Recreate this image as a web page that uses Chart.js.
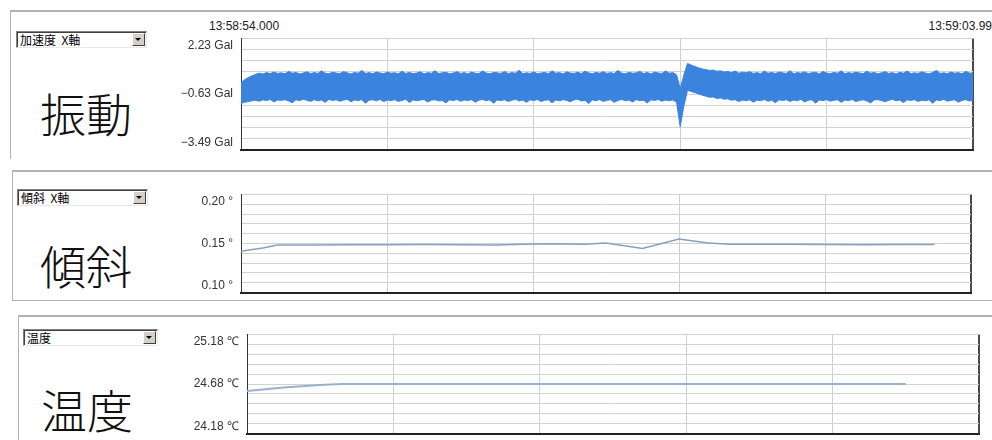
<!DOCTYPE html>
<html>
<head>
<meta charset="utf-8">
<script src="https://cdn.jsdelivr.net/npm/chart.js@4.4.1/dist/chart.umd.min.js"></script>
<style>
html, body { margin:0; padding:0; width:992px; height:440px; overflow:hidden; background:#fff; font-family:"Noto Sans CJK JP", sans-serif; }
.panel { position:absolute; border-top:2px solid #b2b2b2; border-left:1px solid #b2b2b2; }
.combo { position:absolute; background:#fff; border:1px solid; border-color:#808080 #e8e8e8 #e8e8e8 #808080; box-shadow:inset 1px 1px 0 #404040; font-size:12px; line-height:15px; padding-left:3px; color:#000; box-sizing:border-box; height:17px; }
.combo .btn { position:absolute; right:1px; top:1px; width:13px; height:13px; background:#d4d0c8; border:1px solid; border-color:#fff #404040 #404040 #fff; box-sizing:border-box; }
.combo .btn:after { content:""; position:absolute; left:2px; top:4px; border-left:3px solid transparent; border-right:3px solid transparent; border-top:3px solid #000; }
.big { position:absolute; font-size:46px; line-height:1; color:#111; font-weight:300; }
.stamp { position:absolute; font-family:"Liberation Sans", sans-serif; font-size:12px; color:#222; }
.box { position:absolute; }
</style>
</head>
<body>

<div class="panel" style="left:10px;top:10px;width:990px;height:147px;"></div>
<div class="panel" style="left:12px;top:170px;width:990px;height:128px;border-bottom:1px solid #b2b2b2;"></div>
<div class="panel" style="left:18px;top:315px;width:990px;height:140px;"></div>

<div class="combo" style="left:16px;top:31px;width:131px;">加速度&nbsp;&nbsp;X軸<div class="btn"></div></div>
<div class="combo" style="left:17px;top:189px;width:131px;">傾斜&nbsp;&nbsp;X軸<div class="btn"></div></div>
<div class="combo" style="left:23px;top:329px;width:135px;">温度<div class="btn"></div></div>

<div class="big" style="left:40px;top:89px;">振動</div>
<div class="big" style="left:40px;top:241px;">傾斜</div>
<div class="big" style="left:41px;top:385px;">温度</div>

<div class="stamp" style="left:209px;top:19px;">13:58:54.000</div>
<div class="stamp" style="right:0px;top:19px;">13:59:03.99</div>

<div class="box" style="left:170px;top:16px;width:822px;height:156px;"><canvas id="vib"></canvas></div>
<div class="box" style="left:170px;top:172px;width:822px;height:143px;"><canvas id="tilt"></canvas></div>
<div class="box" style="left:170px;top:312px;width:822px;height:144px;"><canvas id="temp"></canvas></div>

<script>
// vibration (acceleration X): max / min per 0.05 s slot, from 13:58:54.000
const vibStep = 0.05;
const vibMax = [
  -0.05, 0.10, 0.22, 0.30, 0.38, 0.44, 0.40, 0.47, 0.42, 0.50, 0.43, 0.46, 0.41, 0.53, 0.44, 0.48, 0.40, 0.45, 0.51, 0.42,
  0.47, 0.43, 0.56, 0.44, 0.41, 0.49, 0.45, 0.42, 0.52, 0.46, 0.40, 0.48, 0.44, 0.58, 0.43, 0.47, 0.41, 0.50, 0.45, 0.42,
  0.49, 0.44, 0.46, 0.41, 0.54, 0.43, 0.48, 0.42, 0.45, 0.51, 0.40, 0.47, 0.44, 0.57, 0.42, 0.46, 0.49, 0.41, 0.45, 0.52,
  0.43, 0.47, 0.40, 0.50, 0.44, 0.42, 0.55, 0.45, 0.41, 0.48, 0.46, 0.43, 0.53, 0.42, 0.47, 0.44, 0.59, 0.41, 0.46, 0.43,
  0.50, 0.42, 0.45, 0.48, 0.41, 0.56, 0.44, 0.47, 0.40, 0.51, 0.45, 0.43, 0.49, 0.42, 0.54, 0.46, 0.41, 0.48, 0.44, 0.52,
  0.43, 0.47, 0.42, 0.58, 0.45, 0.41, 0.49, 0.44, 0.46, 0.53, 0.42, 0.48, 0.40, 0.50, 0.45, 0.43, 0.55, 0.44, 0.47, 0.36,
  -0.35, 0.35, 0.94, 0.86, 0.78, 0.72, 0.66, 0.63, 0.58, 0.60, 0.54, 0.56, 0.50, 0.53, 0.47, 0.55, 0.44, 0.49, 0.46, 0.52,
  0.43, 0.47, 0.41, 0.55, 0.44, 0.48, 0.42, 0.50, 0.46, 0.43, 0.57, 0.41, 0.47, 0.44, 0.51, 0.42, 0.46, 0.49, 0.40, 0.53,
  0.45, 0.42, 0.48, 0.44, 0.56, 0.41, 0.47, 0.43, 0.50, 0.45, 0.42, 0.54, 0.44, 0.48, 0.41, 0.46, 0.52, 0.43, 0.47, 0.40,
  0.49, 0.44, 0.55, 0.42, 0.46, 0.43, 0.51, 0.45, 0.41, 0.48, 0.58, 0.43, 0.46, 0.42, 0.50, 0.44, 0.47, 0.41, 0.53, 0.45,
  0.44];
const vibMin = [
  -1.10, -1.06, -1.02, -0.98, -0.95, -1.00, -0.93, -0.97, -0.91, -1.04, -0.94, -0.96, -0.92, -0.99, -1.08, -0.93, -0.97, -0.90, -0.95, -1.01,
  -0.92, -0.98, -0.94, -1.06, -0.91, -0.96, -0.93, -1.00, -0.95, -0.90, -1.03, -0.94, -0.97, -0.92, -1.10, -0.95, -0.93, -0.98, -0.91, -1.02,
  -0.94, -0.97, -0.92, -1.01, -0.96, -0.90, -1.07, -0.93, -0.98, -0.94, -0.91, -1.04, -0.95, -0.92, -0.99, -0.96, -1.09, -0.93, -0.97, -0.91,
  -1.00, -0.94, -0.96, -0.92, -1.05, -0.95, -0.91, -0.98, -0.93, -1.11, -0.94, -0.97, -0.92, -1.01, -0.95, -0.90, -0.99, -0.94, -1.06, -0.93,
  -0.97, -0.91, -1.02, -0.95, -0.93, -1.08, -0.94, -0.98, -0.92, -0.96, -1.03, -0.93, -0.90, -0.99, -0.95, -1.12, -0.94, -0.97, -0.92, -1.01,
  -0.95, -0.93, -1.06, -0.96, -0.91, -0.98, -0.94, -1.04, -0.92, -0.97, -0.95, -1.09, -0.93, -0.96, -0.91, -1.00, -0.94, -0.98, -0.93, -1.05,
  -2.32, -1.25, -0.44, -0.50, -0.56, -0.62, -0.69, -0.74, -0.80, -0.78, -0.86, -0.83, -0.90, -0.88, -0.95, -0.92, -1.02, -0.94, -0.97, -0.93,
  -1.05, -0.94, -0.97, -0.91, -1.00, -0.95, -1.08, -0.93, -0.96, -0.92, -1.01, -0.94, -0.98, -0.90, -1.04, -0.95, -0.93, -1.10, -0.94, -0.97,
  -0.92, -1.00, -0.95, -0.93, -1.06, -0.94, -0.97, -0.91, -1.02, -0.96, -0.93, -0.99, -1.09, -0.94, -0.92, -0.97, -1.03, -0.95, -0.91, -0.98,
  -0.94, -1.07, -0.93, -0.96, -0.92, -1.01, -0.95, -0.98, -0.93, -1.11, -0.94, -0.97, -0.91, -1.00, -0.95, -0.93, -1.05, -0.96, -0.92, -0.99,
  -0.96];
const vibRange = [-3.49, 2.23];
const vibTicks = ['2.23 Gal', '−0.63 Gal', '−3.49 Gal'];

// tilt X
const tiltTime = [0, 0.3, 0.5, 1.0, 1.5, 2.0, 2.5, 3.0, 3.5, 4.0, 4.3, 4.7, 5.0, 5.5, 6.0, 6.4, 6.7, 7.5, 8.0, 8.5, 9.0, 9.5];
const tiltX = [0.142, 0.1455, 0.1485, 0.1485, 0.1487, 0.1488, 0.1490, 0.1488, 0.1485, 0.1495, 0.1498, 0.1493, 0.1505, 0.1450, 0.1545, 0.1505, 0.1492, 0.1492, 0.1490, 0.1487, 0.1490, 0.1491];
const tiltRange = [0.10, 0.20];
const tiltTicks = ['0.20 °', '0.15 °', '0.10 °'];

// temperature
const tempTime = [0, 0.5, 1.0, 1.3, 2.0, 3.0, 4.0, 5.0, 6.0, 7.0, 8.0, 9.0];
const tempVal = [24.61, 24.645, 24.67, 24.68, 24.68, 24.68, 24.68, 24.68, 24.68, 24.68, 24.68, 24.68];
const tempRange = [24.18, 25.18];
const tempTicks = ['25.18 ℃', '24.68 ℃', '24.18 ℃'];

const timeRange = [0, 10];

Chart.defaults.animation = false;
Chart.defaults.font.family = '"Liberation Sans", sans-serif';
Chart.defaults.font.size = 12;
Chart.defaults.color = '#333';

function pts(xs, ys) {
  return xs.map((x, i) => ({ x: x, y: ys[i] }));
}

// sample times of the vibration slots
const vibTime = vibMax.map((v, i) => +(i * vibStep).toFixed(2));

function makeChart(id, datasets, yRange, tickLabels, axisWidth, rightPad) {
  return new Chart(document.getElementById(id), {
    type: 'line',
    data: { datasets: datasets },
    options: {
      responsive: true,
      maintainAspectRatio: false,
      layout: { padding: { top: 20, bottom: 20, left: 0, right: rightPad } },
      plugins: { legend: { display: false }, tooltip: { enabled: false } },
      elements: { point: { radius: 0 }, line: { tension: 0 } },
      scales: {
        x: {
          type: 'linear', min: timeRange[0], max: timeRange[1],
          ticks: { display: false, stepSize: 2 },
          grid: {
            drawTicks: false,
            color: c => (c.tick && c.tick.value === timeRange[1]) ? '#4a4a4a' : '#cfcfcf',
            lineWidth: c => (c.tick && c.tick.value === timeRange[1]) ? 2 : 1
          },
          border: { color: '#222', width: 2 }
        },
        y: {
          min: yRange[0], max: yRange[1],
          afterBuildTicks: s => {
            const step = (s.max - s.min) / 10;
            const t = [];
            for (let i = 0; i <= 10; i++) t.push({ value: s.min + step * i });
            s.ticks = t;
          },
          afterFit: s => { s.width = axisWidth; },
          ticks: {
            padding: 8,
            autoSkip: false,
            callback: (v, i) => {
              if (i === 10) return ['', tickLabels[0]];
              if (i === 5) return tickLabels[1];
              if (i === 0) return [tickLabels[2], ''];
              return '';
            }
          },
          grid: { drawTicks: false, color: '#d2d2d2' },
          border: { color: '#333', width: 1 }
        }
      }
    }
  });
}

makeChart('vib', [
  { data: pts(vibTime, vibMax), borderColor: '#3a84de', borderWidth: 1, fill: false },
  { data: pts(vibTime, vibMin), borderColor: '#3a84de', borderWidth: 1, backgroundColor: '#3a84de', fill: '-1' }
], vibRange, vibTicks, 71, 19);

makeChart('tilt', [
  { data: pts(tiltTime, tiltX), borderColor: '#86a0bd', borderWidth: 1.5, fill: false }
], tiltRange, tiltTicks, 71, 21);

makeChart('temp', [
  { data: pts(tempTime, tempVal), borderColor: '#98b3cd', borderWidth: 2, fill: false }
], tempRange, tempTicks, 77, 13);
</script>
</body>
</html>
